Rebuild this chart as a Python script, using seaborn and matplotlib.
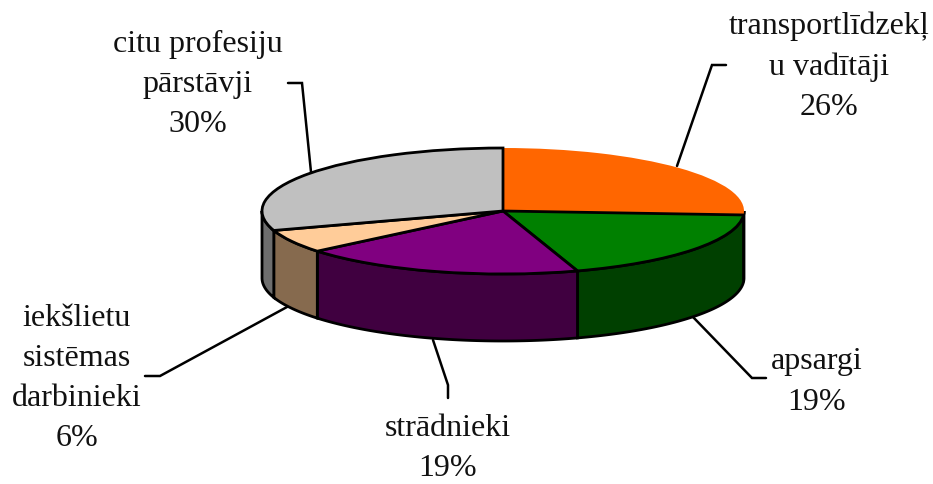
import numpy as np
import matplotlib
matplotlib.use('Agg')
import matplotlib.pyplot as plt
import seaborn as sns
from matplotlib.transforms import Affine2D

names = ['transportlīdzekļ\nu vadītāji', 'apsargi', 'strādnieki', 'iekšlietu\nsistēmas\ndarbinieki', 'citu profesiju\npārstāvji']
shares = [26, 19, 19, 6, 30]
top_colors = ['#FF6600', '#008000', '#800080', '#FFCC99', '#C0C0C0']
side_colors = ['#803300', '#004000', '#400040', '#866A4E', '#6E6E6E']

W, H = 933, 484
cx, cy = 503, H - 211
rx, ry, depth = 241, 63, 67

# label centre and leader line, in picture pixels (y down)
label_pos = [(829, 67), (817, 382), (448, 449), (77, 379), (198, 84)]
leaders = [
    [(677, 166), (712, 65), (726, 65)],
    [(693, 317), (752, 378), (766, 378)],
    [(433, 340), (448, 385), (448, 398)],
    [(287, 307), (160, 376), (145, 376)],
    [(311, 172), (302, 83), (288, 83)],
]

sns.set_theme(style='white')
plt.rcParams['font.family'] = ['Liberation Serif', 'DejaVu Serif']

fig = plt.figure(figsize=(W / 100, H / 100), dpi=100)
ax = fig.add_axes([0, 0, 1, 1])

# top face, squashed into an ellipse
wedges, _ = ax.pie(shares, colors=top_colors, startangle=90, counterclock=False,
                   wedgeprops={'edgecolor': 'black', 'linewidth': 2})
squash = Affine2D().scale(rx, ry).translate(cx, cy) + ax.transData
for w in wedges:
    w.set_transform(squash)
    w.set_zorder(3)
wedges[0].set_edgecolor('none')

ax.set_box_aspect(None)
ax.set_aspect('auto')
ax.set_xlim(0, W)
ax.set_ylim(0, H)
ax.axis('off')

# side wall, only the front half shows
edges = np.cumsum([0] + shares) / sum(shares) * 360
for i in range(len(shares)):
    a0, a1 = max(edges[i], 90), min(edges[i + 1], 270)
    if a1 <= a0:
        continue
    t = np.radians(np.linspace(a0, a1, 80))
    x = cx + rx * np.sin(t)
    y = cy + ry * np.cos(t)
    ax.fill(np.r_[x, x[::-1]], np.r_[y, y[::-1] - depth], facecolor=side_colors[i],
            edgecolor='black', linewidth=2, zorder=2)

for pts in leaders:
    px = [p[0] for p in pts]
    py = [H - p[1] for p in pts]
    ax.plot(px, py, color='black', linewidth=1.8, zorder=1, solid_joinstyle='miter')

for name, share, pos in zip(names, shares, label_pos):
    ax.text(pos[0], H - pos[1], f'{name}\n{share}%', ha='center', va='center',
            fontsize=23, color='#111111', linespacing=1.5)

fig.savefig('out.png', dpi=100)
